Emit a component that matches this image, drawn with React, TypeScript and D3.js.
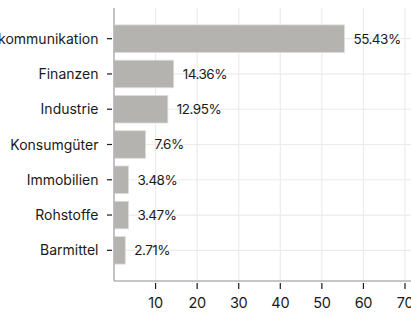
import React from 'react';
import * as d3 from 'd3';

const categories = ['Telekommunikation', 'Finanzen', 'Industrie', 'Konsumgüter', 'Immobilien', 'Rohstoffe', 'Barmittel'];
const values = [55.43, 14.36, 12.95, 7.6, 3.48, 3.47, 2.71];
const valueLabels = ['55.43%', '14.36%', '12.95%', '7.6%', '3.48%', '3.47%', '2.71%'];
const xTicks = [10, 20, 30, 40, 50, 60, 70];

const W = 411;
const H = 313;
const left = 114;
const top = 8;
const bottom = 281;

const App = () => {
  const x = d3.scaleLinear().domain([0, 70]).range([left, 405]);
  const y = d3.scaleBand().domain(categories).range([top, bottom]).paddingInner(0.22).paddingOuter(0.48);
  const font = 'Inter, "Noto Sans", sans-serif';

  return (
    <svg width={W} height={H} style={{ position: 'absolute', left: 0, top: 0 }} fontFamily={font}>
      {/* grid */}
      {xTicks.map((t) => (
        <line key={'gx' + t} x1={x(t)} x2={x(t)} y1={top} y2={bottom} stroke="#ebebeb" strokeWidth={1.2} />
      ))}
      {categories.map((c) => {
        const cy = y(c)! + y.bandwidth() / 2;
        return <line key={'gy' + c} x1={left} x2={W} y1={cy} y2={cy} stroke="#ebebeb" strokeWidth={1.2} />;
      })}
      {/* bars */}
      {categories.map((c, i) => (
        <rect
          key={'b' + c}
          x={x(0)}
          y={y(c)}
          width={x(values[i]) - x(0)}
          height={y.bandwidth()}
          fill="#b4b3af"
          stroke="#dcdcd8"
          strokeWidth={0.8}
        />
      ))}
      {/* value labels */}
      {categories.map((c, i) => (
        <text
          key={'v' + c}
          x={x(values[i]) + 9}
          y={y(c)! + y.bandwidth() / 2}
          dy="0.36em"
          fontSize={13.5}
          letterSpacing={-0.5}
          fill="#1a1a1a"
        >
          {valueLabels[i]}
        </text>
      ))}
      {/* axes */}
      <line x1={left} x2={left} y1={top} y2={bottom} stroke="#b3b3b3" strokeWidth={1.6} />
      <line x1={left} x2={W} y1={bottom} y2={bottom} stroke="#b3b3b3" strokeWidth={1.6} />
      {categories.map((c) => {
        const cy = y(c)! + y.bandwidth() / 2;
        return (
          <g key={'ty' + c}>
            <line x1={107} x2={112} y1={cy} y2={cy} stroke="#1a1a1a" strokeWidth={1.2} />
            <text x={98.5} y={cy} dy="0.36em" textAnchor="end" fontSize={14} fill="#1a1a1a">
              {c}
            </text>
          </g>
        );
      })}
      {xTicks.map((t) => (
        <g key={'tx' + t}>
          <line x1={x(t)} x2={x(t)} y1={283} y2={289} stroke="#1a1a1a" strokeWidth={1.2} />
          <text x={x(t)} y={308} textAnchor="middle" fontSize={14.5} letterSpacing={-0.3} fill="#1a1a1a">
            {t}
          </text>
        </g>
      ))}
    </svg>
  );
};

export default App;
